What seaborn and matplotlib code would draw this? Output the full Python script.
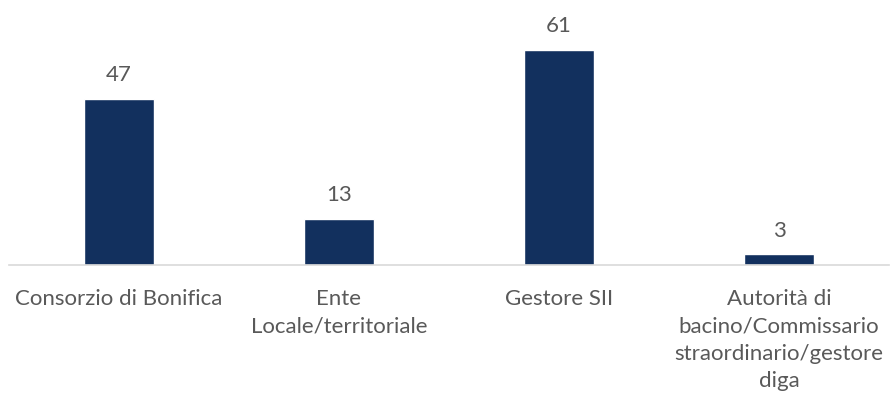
import matplotlib
matplotlib.use("Agg")
import matplotlib.pyplot as plt
import seaborn as sns
import pandas as pd

# chart data
categories = [
    "Consorzio di Bonifica",
    "Ente\nLocale/territoriale",
    "Gestore SII",
    "Autorità di\nbacino/Commissario\nstraordinario/gestore\ndiga",
]
values = [47, 13, 61, 3]

BAR_COLOR = "#12305E"
TEXT_COLOR = "#595959"

sns.set_style("white")
plt.rcParams["font.family"] = ["Lato", "DejaVu Sans"]

df = pd.DataFrame({"categoria": categories, "valore": values})

fig = plt.figure(figsize=(8.91, 4.0), dpi=100)
ax = fig.add_axes([9 / 891, 135 / 400, 880 / 891, 247 / 400])

sns.barplot(data=df, x="categoria", y="valore", color=BAR_COLOR,
            width=0.32, saturation=1, ax=ax)

ax.set_ylim(0, 70)
ax.set_xlim(-0.5, len(categories) - 0.5)

for i, v in enumerate(values):
    ax.annotate(str(v), (i, v), xytext=(0, 10), textcoords="offset points",
                ha="center", va="bottom", fontsize=16, color=TEXT_COLOR)

ax.set_xlabel("")
ax.set_ylabel("")
ax.set_yticks([])
ax.tick_params(axis="x", length=0, pad=17, labelsize=16, labelcolor=TEXT_COLOR)
for lbl in ax.get_xticklabels():
    lbl.set_linespacing(1.47)

for side in ["top", "right", "left"]:
    ax.spines[side].set_visible(False)
ax.spines["bottom"].set_color("#D9D9D9")
ax.spines["bottom"].set_linewidth(1.2)

fig.savefig("out.png", dpi=100)
